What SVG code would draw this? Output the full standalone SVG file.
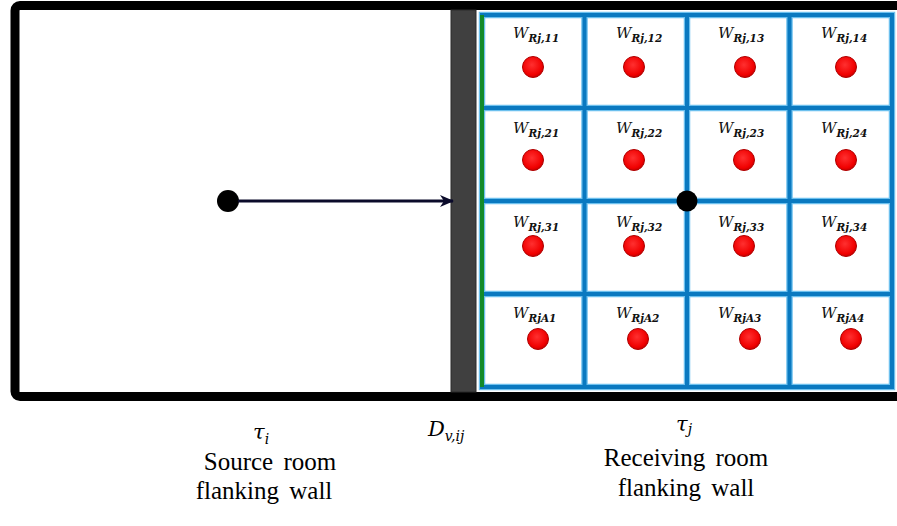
<svg xmlns="http://www.w3.org/2000/svg" width="897" height="526" viewBox="0 0 897 526">
  <style>
    .frame { fill: #ffffff; stroke: #000000; stroke-width: 9; }
    .wall { fill: #404040; stroke: #2a2a2a; stroke-width: 1; }
    .grid-glow { fill: none; stroke: #6cc0ee; stroke-width: 6.5; stroke-linecap: square; }
    .grid { fill: none; stroke: #0a79c0; stroke-width: 4; stroke-linecap: square; }
    .edge { stroke: #138a2a; stroke-width: 4; }
    .probe { fill: url(#redBall); stroke: #b00000; stroke-width: 1; }
    .lbl { font-family: "DejaVu Serif", "Liberation Serif", serif; font-style: italic; fill: #111; }
    .w { font-size: 15px; }
    .sub { font-size: 10.5px; font-weight: bold; }
    .math { font-family: "DejaVu Serif", "Liberation Serif", serif; font-style: italic; fill: #000; font-size: 21px; }
    .msub { font-size: 14px; }
    .cap { font-family: "Liberation Serif", "Times New Roman", serif; font-size: 25px; fill: #000; text-anchor: middle; word-spacing: 4px; }
    .arrow { stroke: #0b0b2a; stroke-width: 3; fill: none; }
  </style>
  <defs>
    <radialGradient id="redBall" cx="0.45" cy="0.4" r="0.6">
      <stop offset="0" stop-color="#ff3030"/>
      <stop offset="0.8" stop-color="#f00000"/>
      <stop offset="1" stop-color="#c80000"/>
    </radialGradient>
    <marker id="head" viewBox="0 0 14 12" refX="13" refY="6" markerWidth="14" markerHeight="12" markerUnits="userSpaceOnUse" orient="auto">
      <path d="M0,0 L14,6 L0,12 L4,6 Z" fill="#0b0b2a"/>
    </marker>
  </defs>

  <!-- room outline -->
  <g id="rooms">
    <rect class="frame" x="15" y="5.5" width="900" height="391" rx="5"/>
  </g>

  <!-- separating wall -->
  <g id="separating-wall">
    <rect class="wall" x="451" y="10" width="25" height="382"/>
  </g>

  <!-- receiving flanking wall grid -->
  <g id="receiving-grid">
    <path class="grid-glow" d="M482,15 H892 V387 H482 Z M584.5,15 V387 M687,15 V387 M789.5,15 V387 M482,108 H892 M482,201 H892 M482,294 H892"/>
    <path class="grid" d="M482,15 H892 V387 H482 Z M584.5,15 V387 M687,15 V387 M789.5,15 V387 M482,108 H892 M482,201 H892 M482,294 H892"/>
    <line class="edge" x1="482" y1="15" x2="482" y2="387"/>
  </g>

  <!-- measurement positions -->
  <g id="cells">
    <g id="c11"><text class="lbl" x="513" y="38"><tspan class="w">W</tspan><tspan class="sub" dy="4">Rj,11</tspan></text><circle class="probe" cx="533" cy="67" r="10.5"/></g>
    <g id="c12"><text class="lbl" x="616" y="38"><tspan class="w">W</tspan><tspan class="sub" dy="4">Rj,12</tspan></text><circle class="probe" cx="634" cy="67" r="10.5"/></g>
    <g id="c13"><text class="lbl" x="718" y="38"><tspan class="w">W</tspan><tspan class="sub" dy="4">Rj,13</tspan></text><circle class="probe" cx="745" cy="67" r="10.5"/></g>
    <g id="c14"><text class="lbl" x="821" y="38"><tspan class="w">W</tspan><tspan class="sub" dy="4">Rj,14</tspan></text><circle class="probe" cx="846" cy="67" r="10.5"/></g>

    <g id="c21"><text class="lbl" x="513" y="133"><tspan class="w">W</tspan><tspan class="sub" dy="4">Rj,21</tspan></text><circle class="probe" cx="533" cy="160" r="10.5"/></g>
    <g id="c22"><text class="lbl" x="616" y="133"><tspan class="w">W</tspan><tspan class="sub" dy="4">Rj,22</tspan></text><circle class="probe" cx="634" cy="160" r="10.5"/></g>
    <g id="c23"><text class="lbl" x="718" y="133"><tspan class="w">W</tspan><tspan class="sub" dy="4">Rj,23</tspan></text><circle class="probe" cx="744" cy="160" r="10.5"/></g>
    <g id="c24"><text class="lbl" x="821" y="133"><tspan class="w">W</tspan><tspan class="sub" dy="4">Rj,24</tspan></text><circle class="probe" cx="846" cy="160" r="10.5"/></g>

    <g id="c31"><text class="lbl" x="513" y="227"><tspan class="w">W</tspan><tspan class="sub" dy="4">Rj,31</tspan></text><circle class="probe" cx="533" cy="246" r="10.5"/></g>
    <g id="c32"><text class="lbl" x="616" y="227"><tspan class="w">W</tspan><tspan class="sub" dy="4">Rj,32</tspan></text><circle class="probe" cx="634" cy="246" r="10.5"/></g>
    <g id="c33"><text class="lbl" x="718" y="227"><tspan class="w">W</tspan><tspan class="sub" dy="4">Rj,33</tspan></text><circle class="probe" cx="744" cy="246" r="10.5"/></g>
    <g id="c34"><text class="lbl" x="821" y="227"><tspan class="w">W</tspan><tspan class="sub" dy="4">Rj,34</tspan></text><circle class="probe" cx="846" cy="246" r="10.5"/></g>

    <g id="c41"><text class="lbl" x="513" y="318"><tspan class="w">W</tspan><tspan class="sub" dy="4">RjA1</tspan></text><circle class="probe" cx="538" cy="339" r="10.5"/></g>
    <g id="c42"><text class="lbl" x="616" y="318"><tspan class="w">W</tspan><tspan class="sub" dy="4">RjA2</tspan></text><circle class="probe" cx="638" cy="339" r="10.5"/></g>
    <g id="c43"><text class="lbl" x="718" y="318"><tspan class="w">W</tspan><tspan class="sub" dy="4">RjA3</tspan></text><circle class="probe" cx="750" cy="339" r="10.5"/></g>
    <g id="c44"><text class="lbl" x="821" y="318"><tspan class="w">W</tspan><tspan class="sub" dy="4">RjA4</tspan></text><circle class="probe" cx="851" cy="339" r="10.5"/></g>
  </g>

  <!-- source and junction points -->
  <g id="source-point"><circle cx="228" cy="201" r="11" fill="#000"/></g>
  <g id="junction-point"><circle cx="687" cy="201" r="10.5" fill="#000"/></g>

  <!-- connectors -->
  <g id="connectors">
    <line class="arrow" x1="238" y1="201" x2="453" y2="201" marker-end="url(#head)"/>
  </g>

  <!-- captions -->
  <g id="captions">
    <text class="math" x="253" y="439">τ<tspan class="msub" dy="5">i</tspan></text>
    <text class="math" x="428" y="436">D<tspan class="msub" dy="5">v,ij</tspan></text>
    <text class="math" x="676" y="431">τ<tspan class="msub" dy="3">j</tspan></text>
    <text class="cap" x="270" y="470">Source room</text>
    <text class="cap" x="264" y="499">flanking wall</text>
    <text class="cap" x="686" y="466">Receiving room</text>
    <text class="cap" x="686" y="496">flanking wall</text>
  </g>
</svg>
